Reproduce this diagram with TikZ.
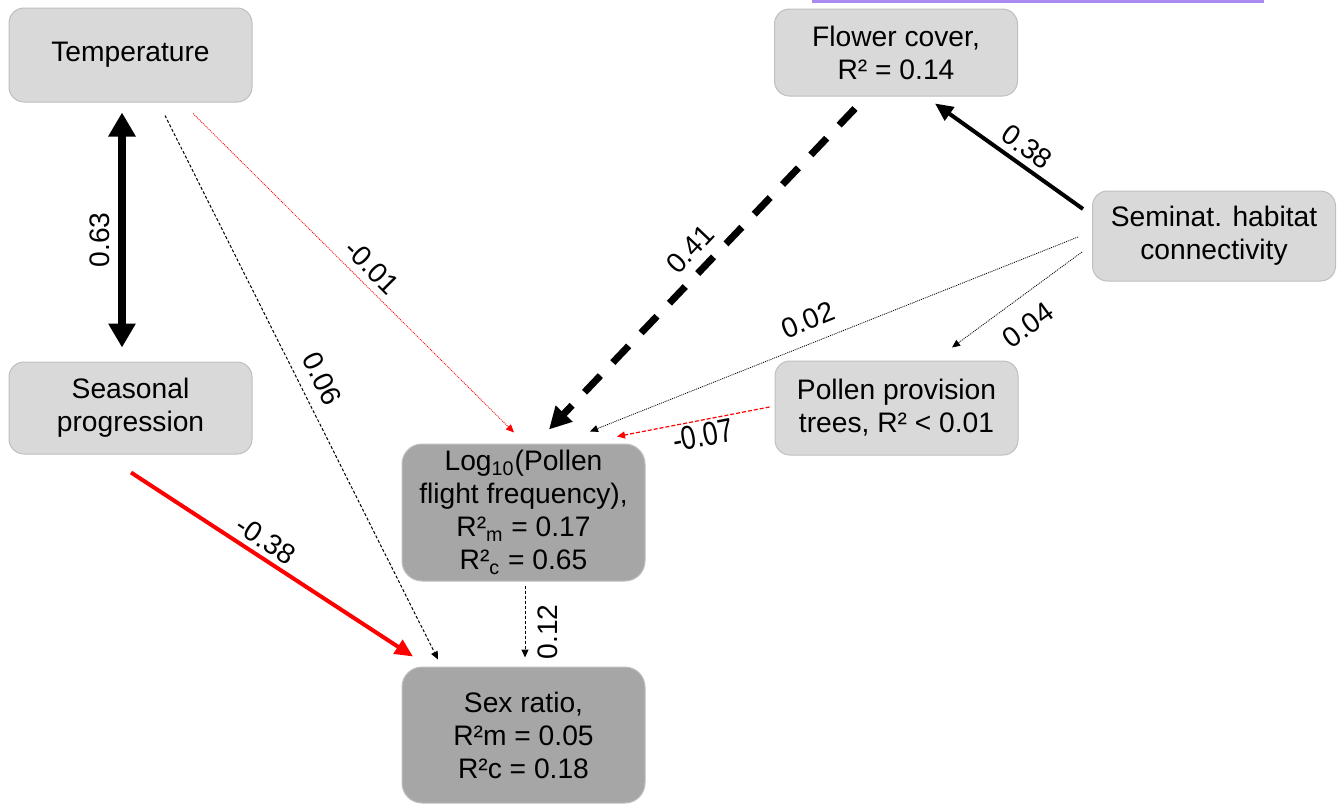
\documentclass[tikz,border=0pt]{standalone}
\usepackage{fontspec}
\setmainfont{Liberation Sans}
\usetikzlibrary{arrows.meta,calc}
\definecolor{lightbox}{HTML}{D9D9D9}
\definecolor{darkbox}{HTML}{A6A6A6}
\definecolor{boxline}{HTML}{BFBFBF}
\definecolor{linkpurple}{RGB}{170,140,240}
\definecolor{pathred}{HTML}{FF0000}
\begin{document}
\begin{tikzpicture}[x=0.5pt,y=-0.5pt,
  font=\fontsize{14.1pt}{16.5pt}\selectfont,
  box/.style={rectangle, rounded corners=7.5pt, fill=lightbox, draw=boxline, line width=0.5pt, align=center, minimum width=121.5pt, inner sep=0pt},
  dbox/.style={box, fill=darkbox, rounded corners=10pt},
  lbl/.style={inner sep=0pt},
  thintip/.style={-{Triangle[width=3.5pt,length=4pt]}},
  thindash/.style={thintip, black, line width=0.5pt, dash pattern=on 1.5pt off 1pt},
  thindot/.style={thintip, line width=0.4pt, dash pattern=on 0.5pt off 0.5pt},
  reddash/.style={thintip, pathred, line width=0.6pt, dash pattern=on 2pt off 1pt},
  dblarrow/.style={{Triangle[width=13pt,length=12pt]}-{Triangle[width=13pt,length=12pt]}, line width=4pt, black},
  boldarrow/.style={-{Triangle[width=8pt,length=9pt]}, line width=2pt},
  bolddash/.style={-{Triangle[width=11pt,length=11pt]}, line width=3.5pt, black, dash pattern=on 11.5pt off 9pt}
]
\useasboundingbox (0,0) rectangle (1337,803);

% stray purple rule at the top
\draw[linkpurple, line width=1.5pt] (812,1) -- (1264,1);

% nodes
\node[box, minimum height=47pt] (temp) at (130.5,55) {Temperature};
\node[box, minimum height=46pt] (seas) at (130.5,408) {Seasonal\\progression};
\node[box, minimum height=43.5pt] (flow) at (896,52.5) {Flower cover,\\R² = 0.14};
\node[box, minimum height=45pt] (semi) at (1214,236) {Seminat. habitat\\connectivity};
\node[box, minimum height=47pt] (poll) at (896.5,408) {Pollen provision\\trees, R² < 0.01};
\node[dbox, minimum height=68.5pt] (logp) at (523.5,512.5) {Log\textsubscript{10}(Pollen\\flight frequency),\\R²\textsubscript{m} = 0.17\\R²\textsubscript{c} = 0.65};
\node[dbox, minimum height=68pt] (sex) at (523.5,735) {Sex ratio,\\R²m = 0.05\\R²c = 0.18};

% connectors
\draw[dblarrow] ($(temp.south)+(-8.5,10)$) -- ($(seas.north)+(-8.5,-14)$);
\draw[thindot, pathred] ($(temp.south)+(62.5,11)$) -- ($(logp.north)+(-9.5,-11)$);
\draw[thindash] ($(temp.south)+(34.5,13)$) -- ($(sex.north)+(-85.5,-7)$);
\draw[boldarrow, pathred] ($(seas.south)+(0.5,18)$) -- ($(sex.north)+(-110.5,-10)$);
\draw[thindash] ($(logp.south)+(1.5,4)$) -- ($(sex.north)+(1.5,-9)$);
\draw[bolddash] ($(flow.south)+(-41,12)$) -- ($(logp.north)+(25.5,-14)$);
\draw[boldarrow, black] ($(semi.west)+(-9,-27)$) -- ($(flow.south)+(39,7)$);
\draw[thindot, black] ($(semi.west)+(-14,1)$) -- ($(logp.north)+(66.5,-12)$);
\draw[thindot, black] ($(semi.west)+(-10,16)$) -- ($(poll.north)+(55.5,-13)$);
\draw[reddash] ($(poll.west)+(-5,-1)$) -- ($(logp.north)+(93.5,-7)$);

% labels
\node[lbl, rotate=90] (l1) at (100,240) {0.63};
\node[lbl, rotate=-45] (l2) at (372,267) {-0.01};
\node[lbl, rotate=-63.4] (l3) at (322,379) {0.06};
\node[lbl, rotate=-33.3] (l4) at (266,540) {-0.38};
\node[lbl, rotate=90] (l5) at (548,632) {0.12};
\node[lbl, rotate=46.5] (l6) at (690,249) {0.41};
\node[lbl, rotate=-35.6] (l7) at (1027,147) {0.38};
\node[lbl, rotate=21.9] (l8) at (808,320) {0.02};
\node[lbl, rotate=36.4] (l9) at (1028,325) {0.04};
\node[lbl, rotate=11] (l10) at (703,435) {\scalebox{0.95}[1.18]{-0.07}};
\end{tikzpicture}
\end{document}
